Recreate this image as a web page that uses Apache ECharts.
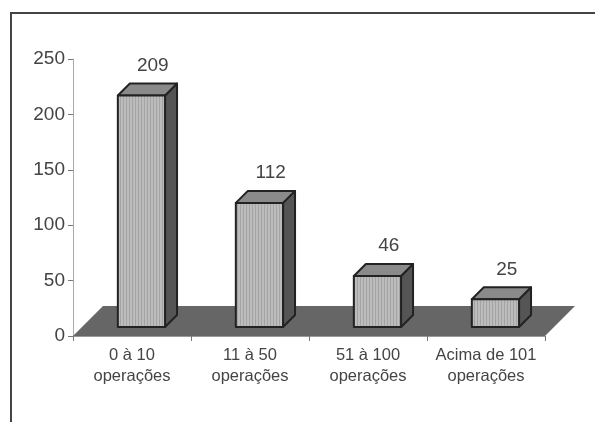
<!DOCTYPE html>
<html>
<head>
<meta charset="utf-8">
<style>
  html, body { margin: 0; padding: 0; background: #fff; }
  #main { width: 595px; height: 422px; }
</style>
<script src="https://cdn.jsdelivr.net/npm/echarts@6/dist/echarts.min.js"></script>
</head>
<body>
<div id="main"></div>
<script>
var categories = ['0 à 10\noperações', '11 à 50\noperações', '51 à 100\noperações', 'Acima de 101\noperações'];
var values = [209, 112, 46, 25];
var yTicks = { min: 0, max: 250, interval: 50 };

var textColor = '#444';
var lineColor = '#222';
var floorDepth = 30;   // floor goes back this many px
var barDepth = 12;     // bar side / top offset
var barLift = 9;       // bar base sits this far above the axis

// vertical stripes on the front of the bars
function stripes() {
  var c = document.createElement('canvas');
  c.width = 3;
  c.height = 4;
  var ctx = c.getContext('2d');
  ctx.fillStyle = '#bcbcbc';
  ctx.fillRect(0, 0, 3, 4);
  ctx.fillStyle = '#a3a3a3';
  ctx.fillRect(0, 0, 1, 4);
  return c;
}
var frontFill = { image: stripes(), repeat: 'repeat' };

function renderFloor(params, api) {
  var g = params.coordSys;
  var y = g.y + g.height;
  return {
    type: 'polygon',
    silent: true,
    shape: { points: [
      [g.x, y],
      [g.x + floorDepth, y - floorDepth],
      [g.x + g.width + floorDepth, y - floorDepth],
      [g.x + g.width, y]
    ] },
    style: { fill: '#666' }
  };
}

function renderBar(params, api) {
  var top = api.coord([api.value(0), api.value(1)]);
  var base = api.coord([api.value(0), 0]);
  var band = api.size([1, 0])[0];
  var w = band * 0.4;
  var x0 = top[0] - band * 0.5 + band * 0.38;
  var x1 = x0 + w;
  var yTop = top[1] - barLift;
  var yBase = base[1] - barLift;
  var d = barDepth;
  var edge = { stroke: lineColor, lineWidth: 2, lineJoin: 'round' };
  return {
    type: 'group',
    children: [
      {
        type: 'polygon',
        shape: { points: [[x1, yBase], [x1 + d, yBase - d], [x1 + d, yTop - d], [x1, yTop]] },
        style: Object.assign({ fill: '#555' }, edge)
      },
      {
        type: 'polygon',
        shape: { points: [[x0, yTop], [x0 + d, yTop - d], [x1 + d, yTop - d], [x1, yTop]] },
        style: Object.assign({ fill: '#8a8a8a' }, edge)
      },
      {
        type: 'rect',
        shape: { x: x0, y: yTop, width: w, height: yBase - yTop },
        style: Object.assign({ fill: frontFill }, edge)
      },
      {
        type: 'text',
        style: {
          x: x0 + band * 0.3 - 0.5,
          y: yTop - 30,
          text: String(api.value(1)),
          fill: textColor,
          font: '19px "Liberation Sans"',
          align: 'center',
          verticalAlign: 'middle'
        }
      }
    ]
  };
}

var myChart = echarts.init(document.getElementById('main'), null, { renderer: 'canvas' });
myChart.setOption({
  animation: false,
  backgroundColor: '#fff',
  textStyle: { fontFamily: 'Liberation Sans' },
  grid: { left: 73, right: 50, top: 59, bottom: 86 },
  // outer frame, open on the right and at the bottom
  graphic: [{
    type: 'polyline',
    silent: true,
    shape: { points: [[11, 422], [11, 13], [595, 13]] },
    style: { stroke: '#444', lineWidth: 2, fill: null }
  }],
  xAxis: {
    type: 'category',
    data: categories,
    axisLine: { show: true, lineStyle: { color: '#999', width: 1 } },
    axisTick: { show: true, alignWithLabel: false, length: 5, lineStyle: { color: '#777' } },
    axisLabel: { color: textColor, fontSize: 16.5, lineHeight: 21, margin: 9, interval: 0 },
    splitLine: { show: false }
  },
  yAxis: {
    type: 'value',
    min: yTicks.min,
    max: yTicks.max,
    interval: yTicks.interval,
    axisLine: { show: true, lineStyle: { color: '#aaa', width: 1 } },
    axisTick: { show: true, length: 5, lineStyle: { color: '#777' } },
    axisLabel: { color: textColor, fontSize: 19, margin: 8, padding: [4, 0, 0, 0], verticalAlignMinLabel: 'middle', verticalAlignMaxLabel: 'middle' },
    splitLine: { show: false }
  },
  series: [
    {
      type: 'custom',
      z: 1,
      clip: false,
      silent: true,
      renderItem: renderFloor,
      data: [[0, 0]]
    },
    {
      type: 'custom',
      z: 2,
      clip: false,
      silent: true,
      renderItem: renderBar,
      encode: { x: 0, y: 1 },
      data: values.map(function (v, i) { return [i, v]; })
    }
  ]
});
</script>
</body>
</html>
